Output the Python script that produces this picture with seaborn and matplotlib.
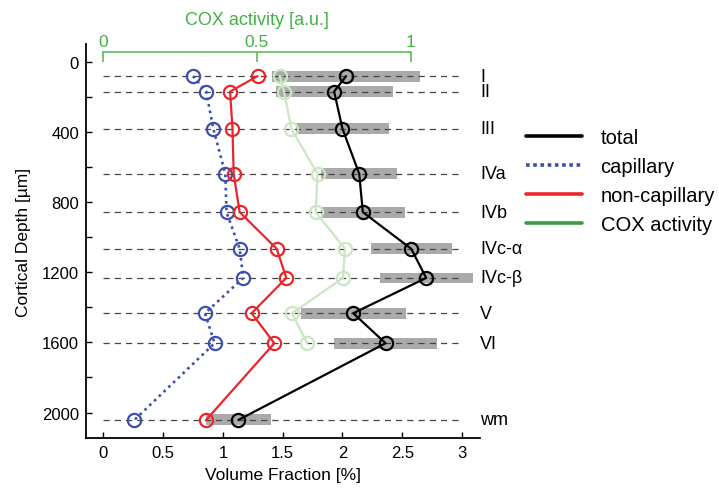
import matplotlib
matplotlib.use("Agg")
import matplotlib.pyplot as plt
import matplotlib.transforms as mtransforms
from matplotlib.lines import Line2D
import pandas as pd
import seaborn as sns

# Cortical layers and their depths (µm)
layers = ["I", "II", "III", "IVa", "IVb", "IVc-α", "IVc-β", "V", "VI", "wm"]
depth = [83, 171, 383, 640, 858, 1067, 1233, 1434, 1605, 2042]

# Vascular volume fraction (%) per layer
total = [2.03, 1.93, 2.00, 2.14, 2.17, 2.575, 2.70, 2.09, 2.36, 1.13]
total_sd = [0.62, 0.49, 0.39, 0.32, 0.35, 0.34, 0.39, 0.44, 0.43, 0.275]
capillary = [0.75, 0.86, 0.92, 1.02, 1.03, 1.14, 1.17, 0.85, 0.93, 0.26]
noncapillary = [1.29, 1.06, 1.08, 1.09, 1.14, 1.45, 1.53, 1.24, 1.43, 0.86]

# COX activity (a.u.), grey matter layers only
cox_layers = ["I", "II", "III", "IVa", "IVb", "IVc-α", "IVc-β", "V", "VI"]
cox = [0.574, 0.588, 0.612, 0.697, 0.691, 0.786, 0.780, 0.614, 0.663]

COX_SCALE = 2.57  # volume-fraction units per COX unit on the shared x range

GREEN_AXIS = "#5cba5c"
GREEN_TEXT = "#45b045"
GREEN_LEGEND = "#3a9a46"
COX_FADED = "#cbe6c3"
BLUE = "#3d4fae"
RED = "#e8262b"

sns.set_theme(style="white")
plt.rcParams["font.family"] = ["Liberation Sans", "DejaVu Sans"]
plt.rcParams["text.color"] = "black"
plt.rcParams["axes.labelcolor"] = "black"
plt.rcParams["xtick.color"] = "black"
plt.rcParams["ytick.color"] = "black"

df = pd.DataFrame({"layer": layers, "depth": depth, "total": total,
                   "sd": total_sd, "capillary": capillary,
                   "noncapillary": noncapillary})
dcox = pd.DataFrame({"layer": cox_layers, "cox": cox})
dcox = dcox.merge(df[["layer", "depth"]], on="layer")
dcox["cox_x"] = dcox["cox"] * COX_SCALE

fig = plt.figure(figsize=(7.19, 4.89), dpi=100)
ax = fig.add_axes([86 / 719, 1 - 439 / 489, 394 / 719, 394 / 489])

# spread of the total volume fraction
ax.barh(df["depth"], 2 * df["sd"], left=df["total"] - df["sd"], height=62,
        color="#aaaaaa", edgecolor="none", zorder=1)

# layer boundaries
ax.hlines(df["depth"], 0, 3, colors="#444444", linestyles=(0, (5, 4)),
          linewidth=0.9, zorder=2)

circle = dict(marker="o", markersize=9.5, markerfacecolor="none",
              markeredgewidth=1.6)

sns.lineplot(data=dcox, x="cox_x", y="depth", orient="y", sort=False,
             estimator=None, color=COX_FADED, linewidth=1.6,
             markeredgecolor=COX_FADED, ax=ax, zorder=3, **circle)
sns.lineplot(data=df, x="capillary", y="depth", orient="y", sort=False,
             estimator=None, color=BLUE, linewidth=1.9, linestyle=(0, (1, 1.5)),
             markeredgecolor=BLUE, ax=ax, zorder=4, **circle)
sns.lineplot(data=df, x="noncapillary", y="depth", orient="y", sort=False,
             estimator=None, color=RED, linewidth=1.6,
             markeredgecolor=RED, ax=ax, zorder=5, **circle)
sns.lineplot(data=df, x="total", y="depth", orient="y", sort=False,
             estimator=None, color="black", linewidth=1.6,
             markeredgecolor="black", ax=ax, zorder=6, **circle)

ax.set_xlim(-0.145, 3.15)
ax.set_ylim(2145, -100)
ax.set_xticks([0, 0.5, 1, 1.5, 2, 2.5, 3])
ax.set_xticklabels(["0", "0.5", "1", "1.5", "2", "2.5", "3"])
ax.set_yticks([0, 400, 800, 1200, 1600, 2000])
ax.set_yticks([200, 600, 1000, 1400, 1800], minor=True)
ax.tick_params(axis="both", which="both", direction="in", length=4,
               width=1, colors="black", labelsize=12, pad=5,
               left=True, bottom=True)
ax.set_xlabel("Volume Fraction [%]", fontsize=12.5, labelpad=5)
ax.set_ylabel("Cortical Depth [µm]", fontsize=12.5, labelpad=8)
for s in ["top", "right"]:
    ax.spines[s].set_visible(False)
for s in ["left", "bottom"]:
    ax.spines[s].set_color("black")
    ax.spines[s].set_linewidth(1.3)

# layer names
for name, d in zip(df["layer"], df["depth"]):
    ax.text(3.15, d, name, va="center", ha="left", fontsize=13, clip_on=False)

# COX activity axis
secax = ax.secondary_xaxis(0.979, functions=(lambda v: v / COX_SCALE,
                                             lambda c: c * COX_SCALE))
secax.set_xticks([0, 0.5, 1])
secax.set_xticklabels(["0", "0.5", "1"])
secax.spines["top"].set_bounds(0, 1)
secax.spines["top"].set_color(GREEN_AXIS)
secax.spines["top"].set_linewidth(1.2)
secax.tick_params(axis="x", direction="in", length=7, width=1.2,
                  color=GREEN_AXIS, labelcolor=GREEN_TEXT,
                  labelsize=12.5, pad=2)
trans = mtransforms.blended_transform_factory(ax.transData, ax.transAxes)
ax.text(0.5 * COX_SCALE, 1.063, "COX activity [a.u.]", transform=trans,
        ha="center", va="center", color=GREEN_TEXT, fontsize=13)

handles = [
    Line2D([], [], color="black", linewidth=2.6),
    Line2D([], [], color=BLUE, linewidth=2.6, linestyle=(0, (1, 1))),
    Line2D([], [], color=RED, linewidth=2.6),
    Line2D([], [], color=GREEN_LEGEND, linewidth=2.6),
]
fig.legend(handles, ["total", "capillary", "non-capillary", "COX activity"],
           loc="upper left", bbox_to_anchor=(526 / 719, 1 - 129 / 489),
           frameon=False, fontsize=14.5, handlelength=2.8, handletextpad=0.9,
           labelspacing=0.5, borderpad=0, borderaxespad=0)

fig.savefig("out.png", dpi=100)
